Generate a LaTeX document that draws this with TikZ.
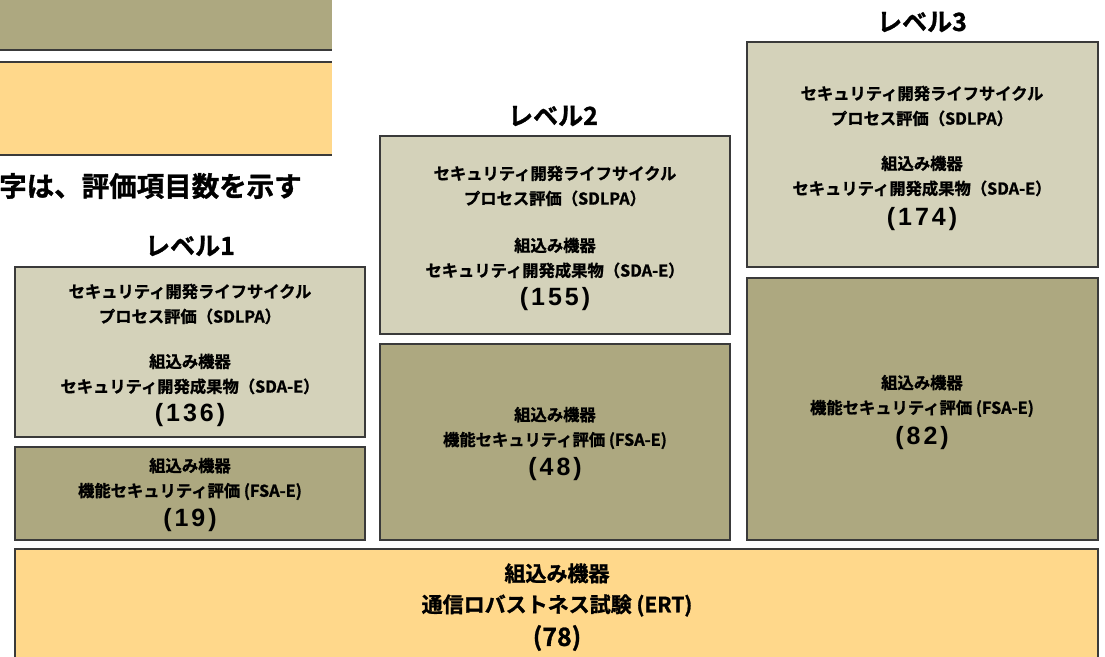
\documentclass[tikz,border=0pt]{standalone}
\usepackage{fontspec}
\newfontfamily\jp{Noto Sans CJK JP}[BoldFont={Noto Sans CJK JP Bold},BoldFeatures={FakeBold=1.2}]
\newfontfamily\num{Liberation Sans}[BoldFeatures={LetterSpace=12}]
\definecolor{olive}{HTML}{ADA880}
\definecolor{lightol}{HTML}{D4D2BA}
\definecolor{yel}{HTML}{FFD88B}
\definecolor{edge}{HTML}{3A3A3A}
\tikzset{
  box/.style={draw=edge, line width=1.4pt, inner sep=0pt},
  txt/.style={font=\jp\bfseries\fontsize{16.3}{25}\selectfont, align=center, inner sep=0pt},
  numb/.style={font=\num\bfseries\fontsize{25}{27}\selectfont, inner sep=0pt},
  ttl/.style={font=\jp\bfseries\fontsize{25}{27}\selectfont, inner sep=0pt},
}
\begin{document}
\begin{tikzpicture}[x=1pt,y=-1pt]
\useasboundingbox (0,0) rectangle (1105,656);
% top-left legend boxes
\fill[olive] (-2,-2) rectangle (332,50);
\draw[edge, line width=1.4pt] (-2,50) -- (332,50);
\fill[yel] (-2,62) rectangle (332,155);
\draw[edge, line width=1.4pt] (-2,62) -- (332,62);
\draw[edge, line width=1.4pt] (-2,155) -- (332,155);
\node[ttl, anchor=west, font=\jp\bfseries\fontsize{27.5}{29}\selectfont] (legend) at (-1,186) {字は、評価項目数を示す};

% Level titles
\node[ttl] (t1) at (190,246) {レベル1};
\node[ttl] (t2) at (553,116) {レベル2};
\node[ttl] (t3) at (922,22) {レベル3};

% Level 1
\draw[box, fill=lightol] (15,267) rectangle (365,437);
\draw[box, fill=olive] (15,447) rectangle (365,540);
% Level 2
\draw[box, fill=lightol] (380,136) rectangle (730,334);
\draw[box, fill=olive] (380,344) rectangle (730,540);
% Level 3
\draw[box, fill=lightol] (747,42) rectangle (1098,267);
\draw[box, fill=olive] (747,278) rectangle (1098,540);
% bottom
\draw[box, fill=yel] (15,549) -- (1098,549) -- (1098,660) -- (15,660) -- cycle;

% Level 1 texts
\node[txt] (a1) at (190,304) {セキュリティ開発ライフサイクル\\プロセス評価（SDLPA）};
\node[txt] (a2) at (190,374) {組込み機器\\セキュリティ開発成果物（SDA-E）};
\node[numb] (a3) at (190,415) {(136)};
\node[txt] (b1) at (190,479) {組込み機器\\機能セキュリティ評価 (FSA-E)};
\node[numb] (b2) at (190,520) {(19)};

% Level 2 texts
\node[txt] (c1) at (555,186) {セキュリティ開発ライフサイクル\\プロセス評価（SDLPA）};
\node[txt] (c2) at (555,258) {組込み機器\\セキュリティ開発成果物（SDA-E）};
\node[numb] (c3) at (555,299) {(155)};
\node[txt] (d1) at (555,428) {組込み機器\\機能セキュリティ評価 (FSA-E)};
\node[numb] (d2) at (555,469) {(48)};

% Level 3 texts
\node[txt] (e1) at (922,106) {セキュリティ開発ライフサイクル\\プロセス評価（SDLPA）};
\node[txt] (e2) at (922,176) {組込み機器\\セキュリティ開発成果物（SDA-E）};
\node[numb] (e3) at (922,219) {(174)};
\node[txt] (f1) at (922,396) {組込み機器\\機能セキュリティ評価 (FSA-E)};
\node[numb] (f2) at (922,438) {(82)};

% bottom texts
\node[txt, font=\jp\bfseries\fontsize{21}{31}\selectfont] (g1) at (557,590) {組込み機器\\通信ロバストネス試験 (ERT)};
\node[numb, font=\jp\bfseries\fontsize{25}{27}\selectfont] (g2) at (557,638) {(78)};
\end{tikzpicture}
\end{document}
